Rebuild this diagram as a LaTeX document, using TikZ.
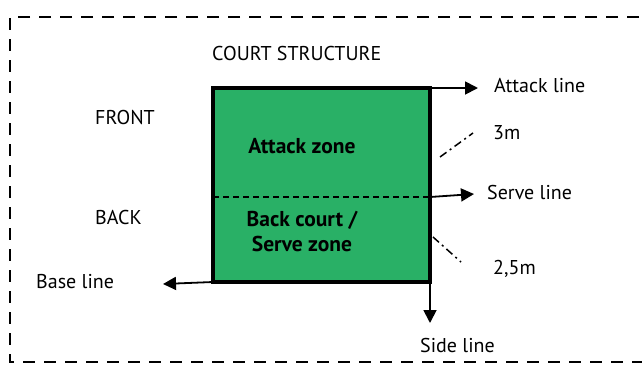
\documentclass[tikz,border=0pt]{standalone}
\usepackage{fontspec}
\setmainfont{PT Sans}
\usetikzlibrary{arrows.meta}
\definecolor{courtgreen}{RGB}{41,176,102}
\begin{document}
\begin{tikzpicture}[x=1pt,y=-1pt,
  lbl/.style={font=\fontsize{20}{22}\selectfont, inner sep=0pt, anchor=west},
  zonelbl/.style={font=\bfseries\fontsize{21.5}{25}\selectfont, align=center, inner sep=0pt},
  pointer/.style={line width=1.8pt, -{Triangle[length=13pt,width=13pt]}},
  measure/.style={line width=1.5pt, dash pattern=on 8pt off 4pt on 2pt off 4pt},
  frame/.style={line width=2pt, dash pattern=on 12pt off 9pt}]
\useasboundingbox (0,0) rectangle (642,365);
\clip (0,0) rectangle (642,365);
% outer dashed frame
\draw[frame] (660,17) -- (10,17) -- (10,362) -- (660,362);
% court
\coordinate (tl) at (213,88);
\coordinate (tr) at (430,88);
\coordinate (bl) at (213,282);
\coordinate (br) at (430,282);
\coordinate (ml) at (213,197);
\coordinate (mr) at (430,197);
\fill[courtgreen] (tl) rectangle (br);
\draw[line width=2.6pt, dash pattern=on 6pt off 4pt] (ml) -- (mr);
\draw[line width=4.5pt] (tl) rectangle (br);
% labels
\node[lbl] (title) at (212,53) {COURT STRUCTURE};
\node[lbl] (front) at (95,117) {FRONT};
\node[lbl] (back) at (95,217) {BACK};
\node[zonelbl] (attack) at (302,146) {Attack zone};
\node[zonelbl] (backcourt) at (302,231) {Back court /\\Serve zone};
\node[lbl] (attackline) at (494,86) {Attack line};
\node[lbl] (serveline) at (487,192) {Serve line};
\node[lbl] (baseline) at (36,282) {Base line};
\node[lbl] (sideline) at (420,345) {Side line};
\node[lbl] (three) at (493,133) {3m};
\node[lbl] (twofive) at (493,269) {2,5m};
% arrows
\coordinate (attip) at (478,88);
\coordinate (svtip) at (474,194);
\coordinate (bstip) at (163,284);
\coordinate (sdtip) at (430,323);
\draw[pointer] (tr) -- (attip);
\draw[pointer] (mr) -- (svtip);
\draw[pointer] (bl) -- (bstip);
\draw[pointer] (br) -- (sdtip);
% measure marks
\coordinate (m1a) at (440,157);
\coordinate (m1b) at (473,133);
\coordinate (m2a) at (433,237);
\coordinate (m2b) at (461,262);
\draw[measure] (m1a) -- (m1b);
\draw[measure] (m2a) -- (m2b);
\end{tikzpicture}
\end{document}
